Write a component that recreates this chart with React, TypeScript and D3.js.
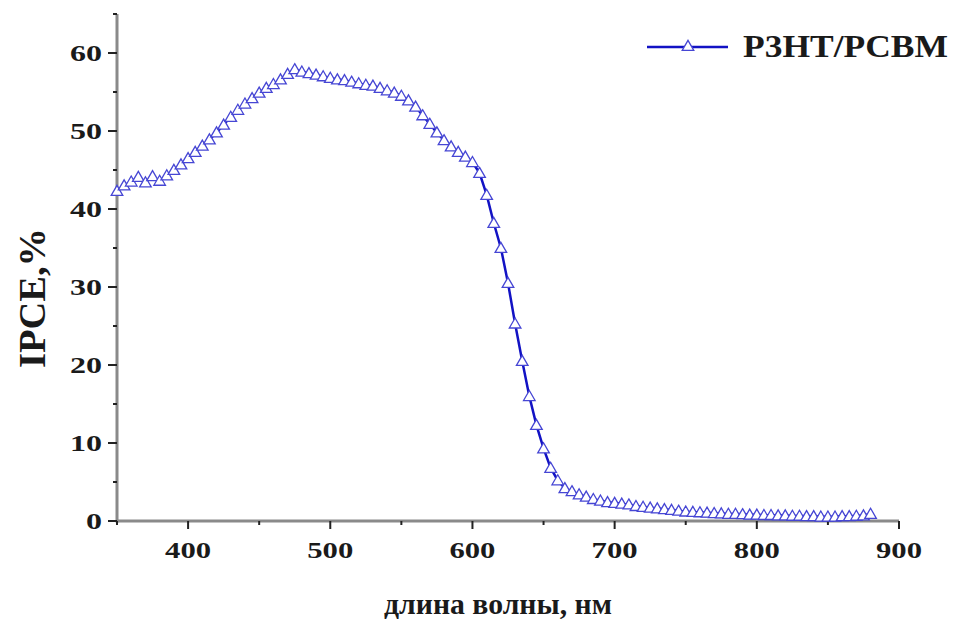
import React, { useEffect } from "react";
import * as d3 from "d3";

const wavelengths = [
  350, 355, 360, 365, 370, 375, 380, 385, 390, 395, 400, 405, 410, 415, 420, 425, 430, 435, 440, 445,
  450, 455, 460, 465, 470, 475, 480, 485, 490, 495, 500, 505, 510, 515, 520, 525, 530, 535, 540, 545,
  550, 555, 560, 565, 570, 575, 580, 585, 590, 595, 600, 605, 610, 615, 620, 625, 630, 635, 640, 645,
  650, 655, 660, 665, 670, 675, 680, 685, 690, 695, 700, 705, 710, 715, 720, 725, 730, 735, 740, 745,
  750, 755, 760, 765, 770, 775, 780, 785, 790, 795, 800, 805, 810, 815, 820, 825, 830, 835, 840, 845,
  850, 855, 860, 865, 870, 875, 880,
];

const ipce = [
  42.3, 43.0, 43.5, 44.1, 43.4, 44.2, 43.6, 44.3, 45.0, 45.7, 46.5, 47.3, 48.1, 48.9, 49.8, 50.8, 51.8, 52.7, 53.5, 54.2,
  54.9, 55.5, 56.0, 56.6, 57.3, 57.9, 57.6, 57.4, 57.2, 57.0, 56.8, 56.6, 56.5, 56.3, 56.1, 55.9, 55.8, 55.5, 55.2, 54.9,
  54.5, 53.9, 53.1, 52.0, 50.9, 49.8, 48.8, 48.0, 47.3, 46.7, 46.0, 44.6, 41.8, 38.2, 35.0, 30.5, 25.3, 20.5, 16.0, 12.3,
  9.3, 6.8, 5.2, 4.2, 3.8, 3.4, 3.1, 2.8, 2.6, 2.4, 2.3, 2.2, 2.1, 1.9, 1.8, 1.7, 1.6, 1.5, 1.4, 1.3,
  1.2, 1.15, 1.1, 1.05, 1.0, 0.95, 0.9, 0.9, 0.85, 0.8, 0.8, 0.75, 0.75, 0.7, 0.7, 0.65, 0.65, 0.6, 0.6, 0.55,
  0.55, 0.55, 0.6, 0.6, 0.65, 0.7, 0.9,
];

const xMajorTicks = [400, 500, 600, 700, 800, 900];
const xMinorTicks = [350, 450, 550, 650, 750, 850];
const yMajorTicks = [0, 10, 20, 30, 40, 50, 60];
const yMinorTicks = [5, 15, 25, 35, 45, 55, 65];
const seriesName = "P3HT/PCBM";
const xTitle = "длина волны, нм";
const yTitle = "IPCE,%";

const W = 953;
const H = 624;
const FONT = "Liberation Serif";

export default function App() {
  useEffect(() => {
    document.body.style.margin = "0";
  }, []);

  const x = d3.scaleLinear().domain([350, 900]).range([117, 899]);
  const y = d3.scaleLinear().domain([0, 65]).range([521, 14]);

  const pts = wavelengths.map((w, i) => [w, ipce[i]] as [number, number]);
  const line = d3
    .line<[number, number]>()
    .x((d) => x(d[0]))
    .y((d) => y(d[1]));

  const tri = d3.symbol().type(d3.symbolTriangle).size(58)() as string;

  const lineColor = "#1212c4";
  const markerColor = "#4646d4";
  const axisColor = "#8a8a8a";
  const tickColor = "#222";

  return (
    <svg width={W} height={H} style={{ position: "absolute", left: 0, top: 0, background: "#fff" }}>
      <rect x={0} y={0} width={W} height={H} fill="#fff" />
      {/* axes */}
      <line x1={x(350)} x2={x(900)} y1={y(0)} y2={y(0)} stroke={axisColor} strokeWidth={3} />
      <line x1={x(350)} x2={x(350)} y1={y(0) + 1.5} y2={y(65)} stroke={axisColor} strokeWidth={3} />
      {xMajorTicks.map((t) => (
        <line key={"xM" + t} x1={x(t)} x2={x(t)} y1={y(0)} y2={y(0) + 8} stroke={tickColor} strokeWidth={2} />
      ))}
      {xMinorTicks.map((t) => (
        <line key={"xm" + t} x1={x(t)} x2={x(t)} y1={y(0)} y2={y(0) + 4} stroke={tickColor} strokeWidth={2} />
      ))}
      {yMajorTicks.map((t) => (
        <line key={"yM" + t} x1={x(350) - 9} x2={x(350)} y1={y(t)} y2={y(t)} stroke={tickColor} strokeWidth={2} />
      ))}
      {yMinorTicks.map((t) => (
        <line key={"ym" + t} x1={x(350) - 4} x2={x(350)} y1={y(t)} y2={y(t)} stroke={tickColor} strokeWidth={2} />
      ))}
      {xMajorTicks.map((t) => (
        <text
          key={"xl" + t}
          x={x(t)}
          y={y(0) + 37}
          textAnchor="middle"
          fontFamily={FONT}
          fontWeight="bold"
          fontSize={24}
          textLength={46}
          lengthAdjust="spacingAndGlyphs"
          fill="#1a1a1a"
        >
          {t}
        </text>
      ))}
      {yMajorTicks.map((t) => (
        <text
          key={"yl" + t}
          x={102}
          y={y(t) + 8}
          textAnchor="end"
          fontFamily={FONT}
          fontWeight="bold"
          fontSize={24}
          textLength={String(t).length * 16}
          lengthAdjust="spacingAndGlyphs"
          fill="#1a1a1a"
        >
          {t}
        </text>
      ))}
      {/* titles */}
      <text
        x={498}
        y={614}
        textAnchor="middle"
        fontFamily={FONT}
        fontWeight="bold"
        fontSize={30}
        textLength={228}
        lengthAdjust="spacingAndGlyphs"
        fill="#1a1a1a"
      >
        {xTitle}
      </text>
      <text
        transform={`translate(45,298) rotate(-90)`}
        textAnchor="middle"
        fontFamily={FONT}
        fontWeight="bold"
        fontSize={38}
        textLength={140}
        lengthAdjust="spacingAndGlyphs"
        fill="#1a1a1a"
      >
        {yTitle}
      </text>
      {/* series */}
      <path d={line(pts) as string} fill="none" stroke={lineColor} strokeWidth={2.5} />
      {pts.map((p, i) => (
        <path
          key={"m" + i}
          d={tri}
          transform={`translate(${x(p[0])},${y(p[1]) + 1})`}
          fill="#fff"
          stroke={markerColor}
          strokeWidth={1.3}
        />
      ))}
      {/* legend */}
      <line x1={647} x2={728} y1={47} y2={47} stroke={lineColor} strokeWidth={2.5} />
      <path d={tri} transform="translate(688,47)" fill="#fff" stroke={markerColor} strokeWidth={1.3} />
      <text
        x={743}
        y={57}
        fontFamily={FONT}
        fontWeight="bold"
        fontSize={31}
        textLength={205}
        lengthAdjust="spacingAndGlyphs"
        fill="#1a1a1a"
      >
        {seriesName}
      </text>
    </svg>
  );
}
